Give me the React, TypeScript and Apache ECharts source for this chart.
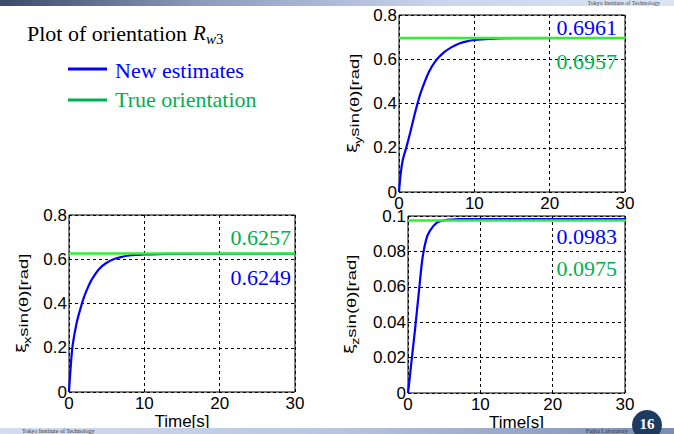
import React, { useEffect, useRef } from "react";
import * as echarts from "echarts";

// time samples [s]
const timeS = [0, 0.25, 0.5, 1, 1.5, 2, 2.5, 3, 4, 5, 6, 7, 8, 9, 10, 12, 15, 20, 25, 30];
// new estimates (blue)
const estY = [0, 0.09, 0.145, 0.205, 0.27, 0.34, 0.405, 0.46, 0.545, 0.598, 0.632, 0.655, 0.671, 0.681, 0.687, 0.692, 0.695, 0.696, 0.6961, 0.6961];
const estX = [0, 0.125, 0.215, 0.31, 0.375, 0.43, 0.472, 0.507, 0.556, 0.584, 0.601, 0.611, 0.617, 0.62, 0.622, 0.6235, 0.6245, 0.6249, 0.6249, 0.6249];
const estZ = [0, 0.009, 0.0185, 0.037, 0.057, 0.076, 0.0865, 0.0915, 0.0962, 0.0976, 0.098, 0.0982, 0.0983, 0.0983, 0.0983, 0.0983, 0.0983, 0.0983, 0.0983, 0.0983];
// true orientation (green)
const trueTime = [0, 30];
const trueY = [0.6957, 0.6957];
const trueX = [0.6257, 0.6257];
const trueZ = [0.0975, 0.0975];
// annotation labels
const finalLabelsY = ["0.6961", "0.6957"];
const finalLabelsX = ["0.6257", "0.6249"];
const finalLabelsZ = ["0.0983", "0.0975"];
const seriesNames = ["New estimates", "True orientation"];

const BLUE = "#0000ff";
const GREEN_LINE = "#2ef02e";
const GREEN_TEXT = "#00b050";
const SANS = "'Liberation Sans', Arial, sans-serif";
const SERIF = "'Liberation Serif', 'Times New Roman', serif";

function xAxisFor(gridIndex: number, withName: boolean) {
  return {
    gridIndex,
    type: "value",
    min: 0,
    max: 30,
    interval: 10,
    axisLine: { show: false },
    axisTick: { show: false },
    axisLabel: { fontSize: 17, color: "#000", fontFamily: SANS, margin: 3 },
    splitLine: { show: true, lineStyle: { color: "#000", type: [3, 3], width: 1 } },
    name: withName ? "Time[s]" : "",
    nameLocation: "middle",
    nameGap: 20,
    nameTextStyle: { fontSize: 17, color: "#000", fontFamily: SANS },
  };
}

function yAxisFor(gridIndex: number, max: number, interval: number) {
  return {
    gridIndex,
    type: "value",
    min: 0,
    max,
    interval,
    axisLine: { show: false },
    axisTick: { show: false },
    axisLabel: { fontSize: 17, color: "#000", fontFamily: SANS, margin: 2 },
    splitLine: { show: true, lineStyle: { color: "#000", type: [3, 3], width: 1 } },
  };
}

function seriesFor(idx: number, est: number[], tru: number[]) {
  return [
    {
      name: seriesNames[0],
      type: "line",
      xAxisIndex: idx,
      yAxisIndex: idx,
      data: timeS.map((t, i) => [t, est[i]]),
      smooth: 0.35,
      showSymbol: false,
      lineStyle: { color: BLUE, width: 2.2 },
      itemStyle: { color: BLUE },
      z: 3,
    },
    {
      name: seriesNames[1],
      type: "line",
      xAxisIndex: idx,
      yAxisIndex: idx,
      data: trueTime.map((t, i) => [t, tru[i]]),
      showSymbol: false,
      lineStyle: { color: GREEN_LINE, width: 2.5 },
      itemStyle: { color: GREEN_LINE },
      z: 4,
    },
  ];
}

function yLabel(cx: number, cy: number, sub: string) {
  return {
    type: "group",
    x: cx,
    y: cy + 50,
    rotation: Math.PI / 2,
    scaleX: 1.42,
    children: [
      { type: "text", x: 0, y: -2, style: { text: "ξ", fontSize: 13, fontFamily: "'DejaVu Sans', sans-serif", fill: "#000", verticalAlign: "middle", align: "left" } },
      { type: "text", x: 6.6, y: 3.5, style: { text: sub, fontSize: 10, fontFamily: SANS, fill: "#000", verticalAlign: "middle", align: "left" } },
      { type: "text", x: 11.5, y: 0, style: { text: "sin(θ)[rad]", fontSize: 13, fontFamily: SANS, fill: "#000", verticalAlign: "middle", align: "left" } },
    ],
  };
}

function annot(x: number, y: number, text: string, color: string) {
  return { type: "text", x, y, z: 10, style: { text, fontSize: 22, fontFamily: SERIF, fill: color, align: "right", verticalAlign: "middle" } };
}

export default function App() {
  const ref = useRef<HTMLDivElement>(null);
  useEffect(() => {
    if (!ref.current) return;
    const chart = echarts.init(ref.current, undefined, { renderer: "svg" });
    const grids = [
      { left: 399, right: 49, top: 15, bottom: 242, show: true, borderColor: "#000", borderWidth: 1, backgroundColor: "#fff" },
      { left: 69, right: 379, top: 215, bottom: 42, show: true, borderColor: "#000", borderWidth: 1, backgroundColor: "#fff" },
      { left: 408, right: 49, top: 216, bottom: 41, show: true, borderColor: "#000", borderWidth: 1, backgroundColor: "#fff" },
    ];
    chart.setOption({
      animation: false,
      backgroundColor: "#fff",
      grid: grids,
      xAxis: [xAxisFor(0, false), xAxisFor(1, true), xAxisFor(2, true)],
      yAxis: [yAxisFor(0, 0.8, 0.2), yAxisFor(1, 0.8, 0.2), yAxisFor(2, 0.1, 0.02)],
      series: [...seriesFor(0, estY, trueY), ...seriesFor(1, estX, trueX), ...seriesFor(2, estZ, trueZ)],
      graphic: [
        // top bar
        {
          type: "rect",
          shape: { x: 0, y: 0, width: 674, height: 6 },
          style: { fill: new echarts.graphic.LinearGradient(0, 0, 1, 0, [
            { offset: 0, color: "#3a4a6c" },
            { offset: 0.3, color: "#8d9bbd" },
            { offset: 0.65, color: "#c9d5ec" },
            { offset: 1, color: "#dbe4f4" },
          ]) },
          z: 20,
        },
        { type: "text", x: 660, y: 0, z: 21, style: { text: "Tokyo Institute of Technology", fontSize: 6, fontFamily: SERIF, fill: "#444", align: "right", verticalAlign: "top" } },
        // bottom bar
        {
          type: "rect",
          shape: { x: 0, y: 428, width: 674, height: 6 },
          style: { fill: new echarts.graphic.LinearGradient(0, 0, 1, 0, [
            { offset: 0, color: "#d3ddf0" },
            { offset: 0.5, color: "#b8c5e2" },
            { offset: 1, color: "#7b8db5" },
          ]) },
          z: 20,
        },
        { type: "text", x: 22, y: 428, z: 21, style: { text: "Tokyo Institute of Technology", fontSize: 6, fontFamily: SERIF, fill: "#333", align: "left", verticalAlign: "top" } },
        { type: "text", x: 628, y: 428, z: 21, style: { text: "Fujita Laboratory", fontSize: 6, fontFamily: SERIF, fill: "#333", align: "right", verticalAlign: "top" } },
        { type: "circle", shape: { cx: 647, cy: 425, r: 15 }, style: { fill: "#1d3a62" }, z: 22 },
        { type: "text", x: 647, y: 424, z: 23, style: { text: "16", fontSize: 15, fontWeight: "bold", fontFamily: SERIF, fill: "#fff", align: "center", verticalAlign: "middle" } },
        // title
        { type: "text", x: 27, y: 33, style: { text: "Plot of orientation", fontSize: 22, fontFamily: SERIF, fill: "#000", verticalAlign: "middle" } },
        { type: "text", x: 193, y: 33, style: { text: "R", fontSize: 21, fontStyle: "italic", fontFamily: SERIF, fill: "#000", verticalAlign: "middle" } },
        { type: "text", x: 206, y: 39, style: { text: "w", fontSize: 15, fontStyle: "italic", fontFamily: SERIF, fill: "#000", verticalAlign: "middle" } },
        { type: "text", x: 216, y: 39, style: { text: "3", fontSize: 15, fontFamily: SERIF, fill: "#000", verticalAlign: "middle" } },
        // legend
        { type: "line", shape: { x1: 68, y1: 69, x2: 107, y2: 69 }, style: { stroke: BLUE, lineWidth: 3 } },
        { type: "text", x: 115, y: 70, style: { text: seriesNames[0], fontSize: 22, fontFamily: SERIF, fill: BLUE, verticalAlign: "middle" } },
        { type: "line", shape: { x1: 68, y1: 100, x2: 107, y2: 100 }, style: { stroke: GREEN_TEXT, lineWidth: 3 } },
        { type: "text", x: 115, y: 99, style: { text: seriesNames[1], fontSize: 22, fontFamily: SERIF, fill: GREEN_TEXT, verticalAlign: "middle" } },
        // y labels
        yLabel(355, 103, "y"),
        yLabel(24, 303, "x"),
        yLabel(352, 304, "z"),
        // annotations
        annot(617, 27, finalLabelsY[0], BLUE),
        annot(617, 61, finalLabelsY[1], GREEN_TEXT),
        annot(291, 237, finalLabelsX[0], GREEN_TEXT),
        annot(291, 277, finalLabelsX[1], BLUE),
        annot(617, 236, finalLabelsZ[0], BLUE),
        annot(617, 268, finalLabelsZ[1], GREEN_TEXT),
      ],
    });
    return () => chart.dispose();
  }, []);
  return <div ref={ref} style={{ position: "absolute", left: 0, top: 0, width: 674, height: 434 }} />;
}
